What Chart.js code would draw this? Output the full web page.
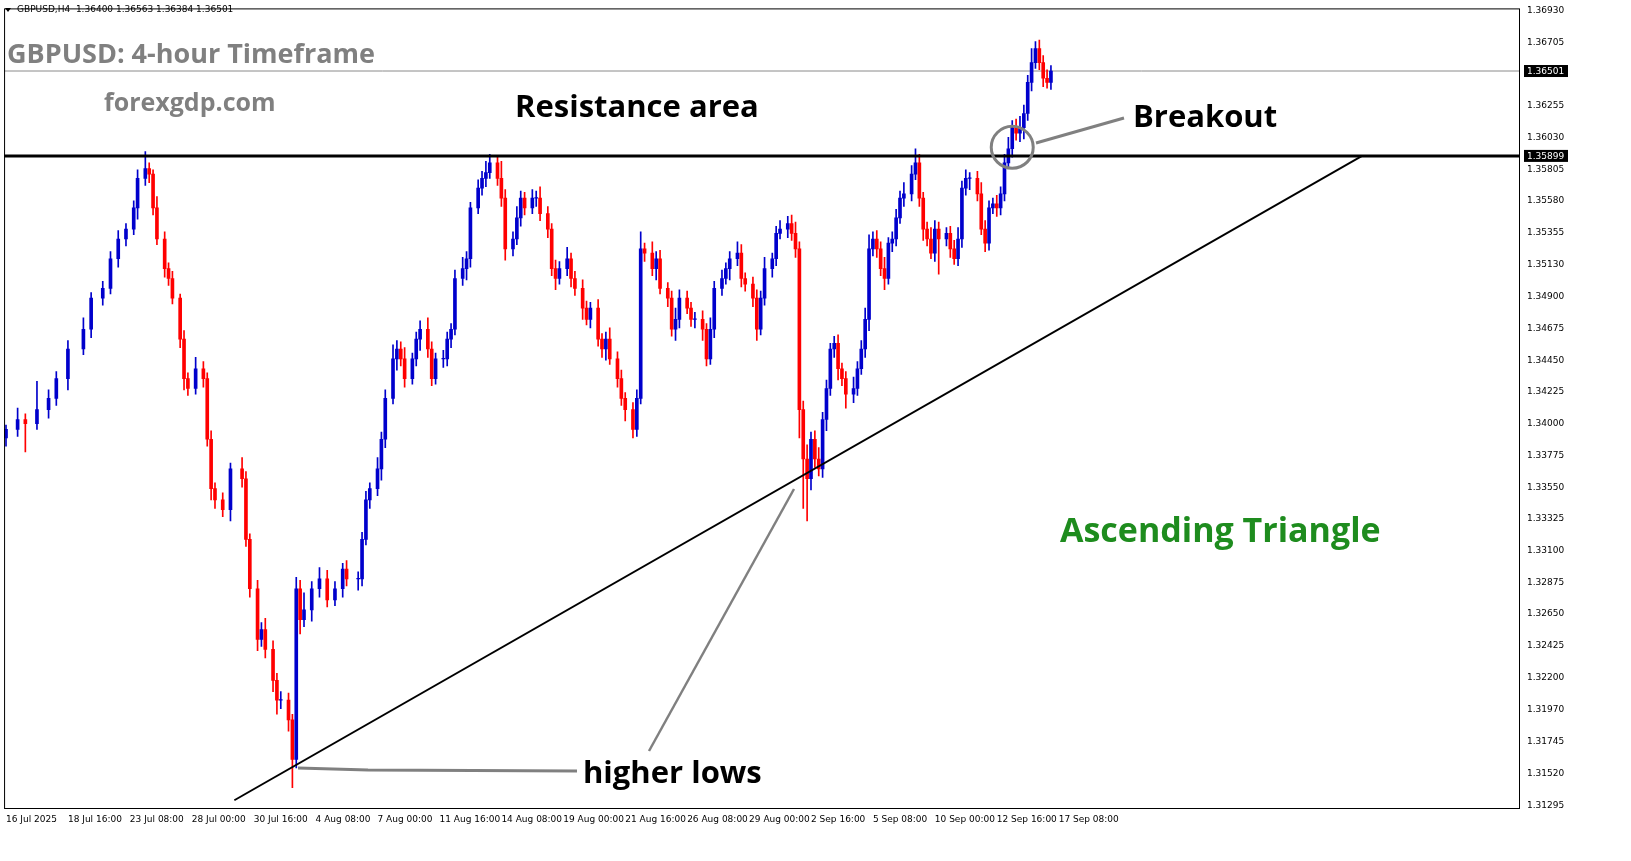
<!DOCTYPE html>
<html><head><meta charset="utf-8">
<script src="https://cdn.jsdelivr.net/npm/chart.js@4.4.1/dist/chart.umd.min.js"></script>
<style>html,body{margin:0;padding:0;background:#fff}#c{display:block}</style>
</head><body>
<canvas id="c" width="1631" height="861"></canvas>
<script>
const candleIdx=[0,3,5,8,11,13,16,20,22,25,27,29,31,33,34,36,37,38,39,41,42,43,45,46,47,49,51,52,53,54,56,58,61,62,63,65,66,67,69,70,71,73,74,75,76,77,79,81,83,85,87,88,91,92,93,94,96,97,98,100,101,102,103,105,106,107,109,110,111,113,114,115,116,118,119,120,122,123,124,125,127,128,129,131,132,133,134,136,137,138,140,141,142,143,145,146,147,149,150,151,153,154,155,156,158,159,160,162,163,164,165,167,168,169,171,172,173,174,176,177,178,180,181,182,183,185,186,187,189,190,191,193,194,195,196,198,199,200,202,203,204,205,206,207,208,209,210,211,212,213,214,215,216,217,219,220,221,222,223,224,225,226,227,228,229,230,231,232,234,235,236,237,238,239,240,241,243,244,245,246,247,248,249,251,252,253,254,255,256,257,258,259,260,261,262,263,264,265,266,267,268,269,270];
const closes=[1.3396,1.3403,1.3400,1.3410,1.3418,1.3432,1.3453,1.3467,1.3489,1.3496,
1.3517,1.3531,1.3538,1.3553,1.3574,1.3581,1.3577,1.3553,1.3531,1.3510,
1.3503,1.3489,1.3460,1.3432,1.3425,1.3439,1.3432,1.3389,1.3354,1.3346,
1.3339,1.3368,1.3361,1.3318,1.3283,1.3247,1.3254,1.3240,1.3218,1.3204,
1.3204,1.3190,1.3162,1.3283,1.3261,1.3268,1.3283,1.3290,1.3275,1.3283,
1.3297,1.3290,1.3290,1.3318,1.3346,1.3354,1.3368,1.3389,1.3418,1.3446,
1.3453,1.3446,1.3432,1.3446,1.3460,1.3467,1.3453,1.3432,1.3446,1.3446,
1.3460,1.3467,1.3503,1.3510,1.3517,1.3553,1.3567,1.3574,1.3578,1.3585,
1.3574,1.3560,1.3524,1.3531,1.3546,1.3560,1.3553,1.3560,1.3560,1.3549,
1.3538,1.3510,1.3503,1.3510,1.3517,1.3503,1.3496,1.3482,1.3474,1.3482,
1.3460,1.3453,1.3460,1.3446,1.3432,1.3418,1.3410,1.3396,1.3418,1.3524,
1.3521,1.3510,1.3517,1.3496,1.3489,1.3467,1.3474,1.3489,1.3482,1.3474,
1.3474,1.3467,1.3446,1.3467,1.3496,1.3503,1.3510,1.3517,1.3521,1.3503,
1.3499,1.3489,1.3467,1.3489,1.3510,1.3517,1.3535,1.3538,1.3542,1.3535,
1.3524,1.3410,1.3375,1.3361,1.3389,1.3375,1.3368,1.3403,1.3425,1.3453,
1.3457,1.3439,1.3432,1.3421,1.3425,1.3439,1.3453,1.3474,1.3524,1.3531,
1.3524,1.3510,1.3503,1.3528,1.3531,1.3546,1.3560,1.3563,1.3577,1.3585,
1.3560,1.3538,1.3531,1.3521,1.3538,1.3531,1.3535,1.3524,1.3517,1.3531,
1.3567,1.3574,1.3574,1.3563,1.3538,1.3528,1.3553,1.3556,1.3553,1.3563,
1.3585,1.3595,1.3610,1.3606,1.3610,1.3620,1.3642,1.3656,1.3666,1.3656,
1.3645,1.3642,1.3650];
const firstOpen=1.3390;
const upWickPips=[3,8,4,20,6,5,6,8,4,5, 5,6,4,5,6,12,4,3,8,5, 4,5,3,6,4,8,5,4,6,4, 5,4,8,5,4,6,5,8,6,5, 6,5,4,8,6,12,5,8,6,5, 4,6,5,5,6,4,8,5,6,10, 6,5,8,4,5,6,8,5,4,6, 5,4,6,8,5,4,6,5,8,6, 4,12,6,5,8,5,4,6,5,8, 5,4,6,5,8,4,5,6,5,4, 6,4,5,8,5,6,4,5,6,12, 4,8,5,6,4,5,8,6,5,4, 5,6,4,8,5,6,4,5,8,6, 4,5,6,5,8,4,5,6,5,6, 8,5,6,10,5,6,8,5,6,4, 5,6,4,5,8,5,6,8,10,5, 6,5,8,4,5,6,5,8,6,10, 6,4,5,8,6,5,4,5,6,8, 5,6,4,5,8,6,5,4,6,5, 6,8,5,6,8,6,5,10,5,6, 5,6,4];
const dnWickPips=[6,5,20,4,6,5,8,4,6,5, 4,6,5,4,8,5,6,5,4,6, 5,4,6,8,5,4,6,5,8,6, 5,8,6,5,6,8,5,6,8,10, 6,8,20,6,10,5,8,6,5,4, 6,5,8,5,4,6,5,8,6,4, 8,5,6,4,5,8,6,5,4,6, 5,6,4,5,8,6,4,5,6,4, 5,6,8,5,4,6,5,4,6,5, 6,5,8,4,5,6,5,8,4,6, 5,6,8,4,6,5,8,6,5,4, 6,5,8,4,6,5,8,6,4,5, 6,8,5,4,6,5,4,8,5,6, 5,6,8,4,5,6,5,4,6,5, 6,20,35,30,8,6,5,6,8,5, 6,8,5,10,6,5,4,6,8,5, 6,5,8,4,6,5,4,6,5,4, 6,8,5,4,6,25,5,6,4,5, 6,5,8,5,4,6,5,4,6,5, 5,4,6,5,6,8,5,6,4,5, 6,4,5];
const yTickValues=[1.36930,1.36705,1.36480,1.36255,1.36030,1.35805,1.35580,1.35355,1.35130,1.34900,1.34675,1.34450,1.34225,1.34000,1.33775,1.33550,1.33325,1.33100,1.32875,1.32650,1.32425,1.32200,1.31970,1.31745,1.31520,1.31295];
const xTickIdx=[0,16,32,48,64,80,96,112,128,144,160,176,192,208,224,240,256,272];
const xTickLabels=["16 Jul 2025","18 Jul 16:00","23 Jul 08:00","28 Jul 00:00","30 Jul 16:00","4 Aug 08:00","7 Aug 00:00","11 Aug 16:00","14 Aug 08:00","19 Aug 00:00","21 Aug 16:00","26 Aug 08:00","29 Aug 00:00","2 Sep 16:00","5 Sep 08:00","10 Sep 00:00","12 Sep 16:00","17 Sep 08:00"];
const resistanceLevel=1.35899;
const lastPrice=1.36501;
const trendX=[59,350.4];
const trendY=[1.3133,1.35899];

const BLUE='#0000CC',RED='#FF0000';
const bodies=[],wicks=[],colors=[];
let prev=firstOpen;
closes.forEach((c,i)=>{
  const o=prev, hi=Math.max(o,c)+upWickPips[i]*1e-4, lo=Math.min(o,c)-dnWickPips[i]*1e-4;
  const col=c>=o?BLUE:RED;
  bodies.push({x:candleIdx[i],y:[o,c===o?c+0.00004:c]});
  wicks.push({x:candleIdx[i],y:[lo,hi]});
  colors.push(col);prev=c;
});

const annot={id:'annot',afterDraw(ch){
  const ctx=ch.ctx,a=ch.chartArea,ys=ch.scales.y,xs=ch.scales.x;
  ctx.save();
  ctx.strokeStyle='#000';ctx.lineWidth=1;ctx.strokeRect(a.left+0.5,a.top+0.5,a.right-a.left-1,a.bottom-a.top);
  // price boxes
  [[lastPrice,'1.36501'],[resistanceLevel,'1.35899']].forEach(([v,t])=>{
    const y=ys.getPixelForValue(v);
    ctx.fillStyle='#000';ctx.fillRect(a.right+4,y-6,44,12);
    ctx.fillStyle='#fff';ctx.font='9px "DejaVu Sans"';ctx.textBaseline='middle';ctx.fillText(t,a.right+7,y+0.5);
  });
  // header
  ctx.fillStyle='#000';ctx.beginPath();ctx.moveTo(5,8);ctx.lineTo(11,8);ctx.lineTo(8,12);ctx.fill();
  ctx.font='9px "DejaVu Sans"';ctx.textBaseline='middle';ctx.fillText('GBPUSD,H4  1.36400 1.36563 1.36384 1.36501',17,10);
  ctx.textBaseline='alphabetic';
  ctx.fillStyle='#808080';ctx.font='bold 27px "Open Sans"';ctx.fillText('GBPUSD: 4-hour Timeframe',7,63);
  ctx.font='bold 25px "Open Sans"';ctx.fillText('forexgdp.com',104,111);
  ctx.fillStyle='#000';ctx.font='bold 31px "Open Sans"';ctx.fillText('Resistance area',515,117);
  ctx.fillText('Breakout',1133,127);
  ctx.fillText('higher lows',583,783);
  ctx.fillStyle='#1E8C1E';ctx.font='bold 34px "Open Sans"';ctx.fillText('Ascending Triangle',1060,542);
  // circle & pointers
  ctx.strokeStyle='#808080';ctx.lineWidth=3;
  ctx.beginPath();ctx.arc(xs.getPixelForValue(260),ys.getPixelForValue(1.3596),21,0,Math.PI*2);ctx.stroke();
  ctx.beginPath();ctx.moveTo(1036,143);ctx.lineTo(1124,118);ctx.stroke();
  ctx.beginPath();ctx.moveTo(298,768);ctx.lineTo(368,770);ctx.lineTo(577,771);ctx.stroke();
  ctx.lineWidth=2.5;ctx.beginPath();ctx.moveTo(649,751);ctx.lineTo(794,489);ctx.stroke();
  ctx.restore();
}};

new Chart(document.getElementById('c'),{
  type:'bar',
  data:{datasets:[
    {type:'line',data:[{x:-2,y:resistanceLevel},{x:400,y:resistanceLevel}],borderColor:'#000',borderWidth:3,pointRadius:0,order:0},
    {type:'line',data:[{x:-2,y:lastPrice},{x:400,y:lastPrice}],borderColor:'#8a8a8a',borderWidth:1,pointRadius:0,order:3},
    {type:'line',data:trendX.map((x,i)=>({x,y:trendY[i]})),borderColor:'#000',borderWidth:2,pointRadius:0,order:0},
    {data:wicks,backgroundColor:colors,barThickness:1,grouped:false,order:2},
    {data:bodies,backgroundColor:colors,barThickness:3,grouped:false,order:1}
  ]},
  options:{responsive:false,animation:false,devicePixelRatio:1,
    layout:{padding:{left:2,top:2,right:0,bottom:0}},
    plugins:{legend:{display:false},tooltip:{enabled:false}},
    scales:{
      x:{type:'linear',min:-0.5,max:391.2,offset:false,grid:{display:false,drawTicks:false},border:{display:false},
        afterBuildTicks(s){s.ticks=xTickIdx.map(v=>({value:v}));},
        afterFit(s){s.height=53;},
        ticks:{autoSkip:false,maxRotation:0,align:'start',padding:6,color:'#000',font:{family:'DejaVu Sans',size:9},
          callback(v){const k=xTickIdx.indexOf(v);return k>=0?xTickLabels[k]:'';}}},
      y:{position:'right',min:1.31275,max:1.36945,grid:{display:false,drawTicks:true,tickLength:4,tickColor:'#000'},border:{display:false},
        afterBuildTicks(s){s.ticks=yTickValues.map(v=>({value:v}));},
        afterFit(s){s.width=111;},
        ticks:{autoSkip:false,padding:3,color:'#000',font:{family:'DejaVu Sans',size:9},callback:v=>v.toFixed(5)}}
    }},
  plugins:[annot]
});
</script>
</body></html>
